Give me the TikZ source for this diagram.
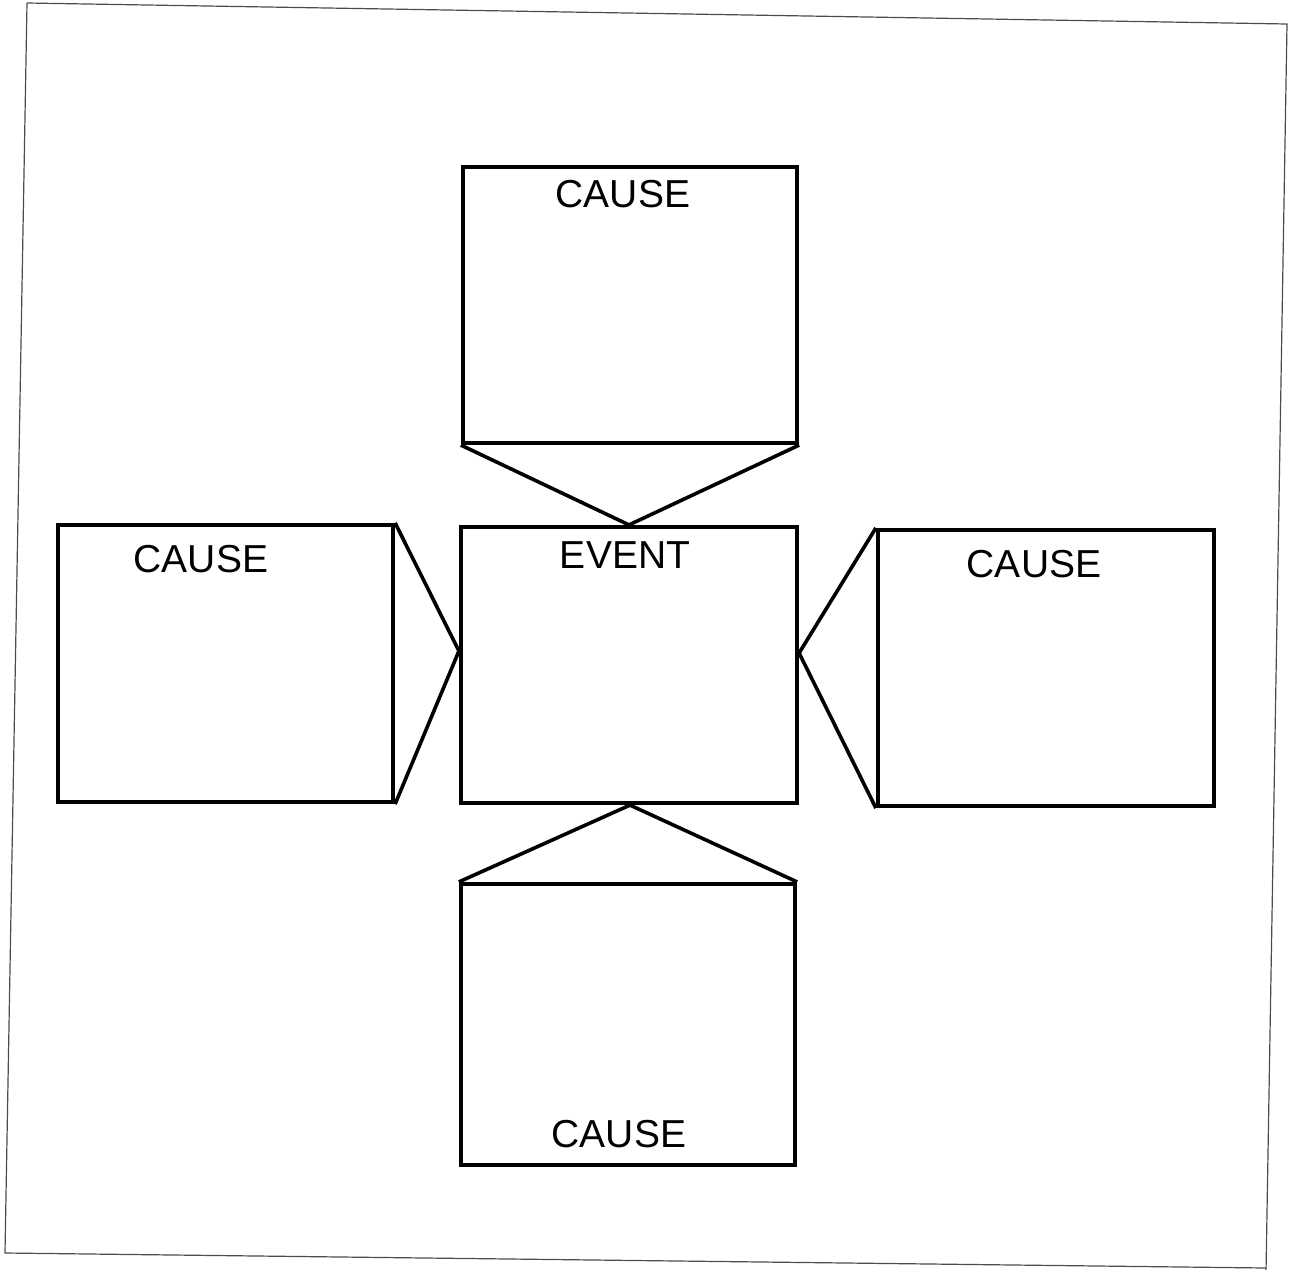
\documentclass[tikz,border=0pt]{standalone}
\usepackage{fontspec}
\setmainfont{Liberation Sans}
\usetikzlibrary{calc}
\begin{document}
\begin{tikzpicture}[x=1pt,y=-1pt,
  box/.style={draw=black,line width=4.2pt,rectangle,inner sep=0pt},
  lbl/.style={anchor=base,inner sep=0pt,font=\fontsize{39}{46}\selectfont},
  link/.style={draw=black,line width=3.6pt,line join=miter},
  frame/.style={draw=black!70,line width=1.2pt}]
\useasboundingbox (0,0) rectangle (1290,1269);
\draw[frame] (27,3) -- (1287,24) -- (1266,1272) (5,1253) -- (1266,1268) (5,1253) -- (27,3);
% boxes
\node[box,minimum width=334,minimum height=276] (top) at (630,305) {};
\node[box,minimum width=336,minimum height=276] (event) at (629,665) {};
\node[box,minimum width=335,minimum height=277] (left) at (225.5,663.5) {};
\node[box,minimum width=336,minimum height=276] (right) at (1046,668) {};
\node[box,minimum width=334,minimum height=281] (bottom) at (628,1024.5) {};
% labels
\node[lbl] (ttop) at (623,207) {CAUSE};
\node[lbl] (tevent) at (625,568) {EVENT};
\node[lbl] (tleft) at (201,572) {CAUSE};
\node[lbl] (tright) at (1034,577) {CAUSE};
\node[lbl] (tbottom) at (619,1147) {CAUSE};
% apex points on the event box
\coordinate (atop) at (event.north);
\coordinate (abot) at ($(event.south)+(1,0)$);
\coordinate (aleft) at ($(event.west)+(0,-14)$);
\coordinate (aright) at ($(event.east)+(0,-12)$);
% connectors
\draw[link] (top.south west) -- (atop) -- (top.south east);
\draw[link] (bottom.north west) -- (abot) -- (bottom.north east);
\draw[link] (left.north east) -- (aleft) -- (left.south east);
\draw[link] (right.north west) -- (aright) -- (right.south west);
\end{tikzpicture}
\end{document}
